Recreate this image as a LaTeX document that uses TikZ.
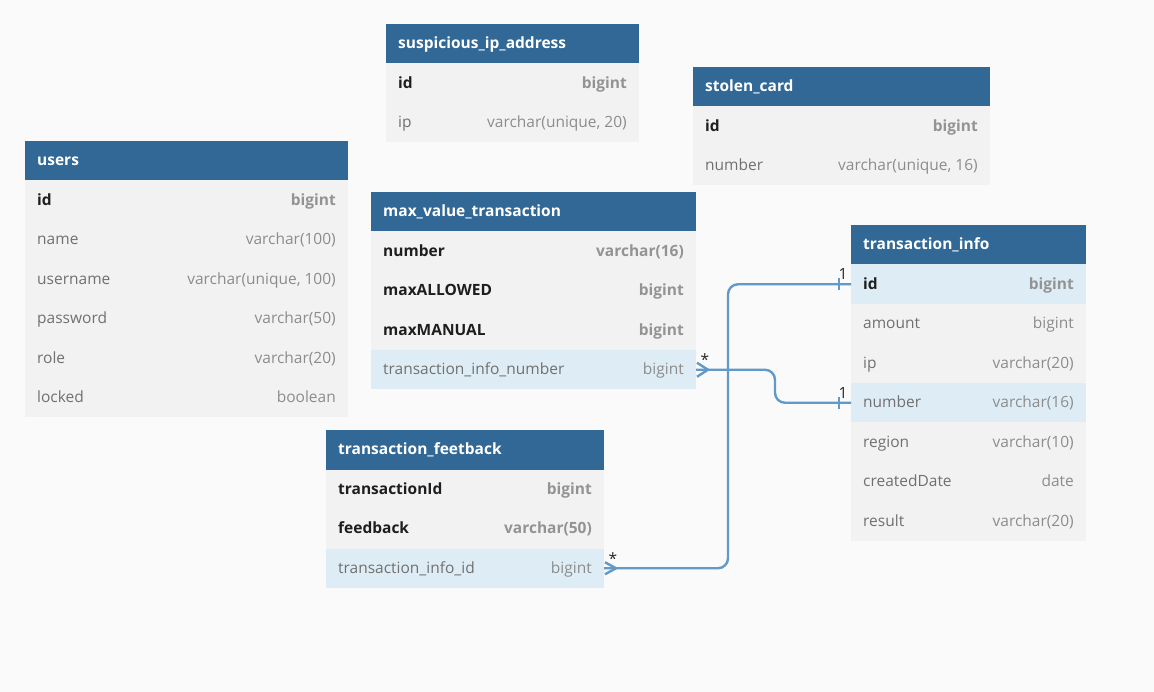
\documentclass[tikz,border=0pt]{standalone}
\usepackage{fontspec}
\setmainfont{Open Sans}
\usetikzlibrary{calc}
\definecolor{bgc}{HTML}{FAFAFA}
\definecolor{hdrc}{HTML}{316896}
\definecolor{rowc}{HTML}{F2F2F2}
\definecolor{hlc}{HTML}{DEEDF5}
\definecolor{fldn}{HTML}{707070}
\definecolor{typn}{HTML}{8C8C8C}
\definecolor{fldb}{HTML}{1E1E1E}
\definecolor{typb}{HTML}{939393}
\definecolor{connc}{HTML}{6199C9}
\tikzset{
  base/.style={inner sep=0pt, outer sep=0pt, draw=none},
  hdr/.style={base, fill=hdrc, minimum height=39.5pt},
  hdrtxt/.style={inner sep=0pt, text=white, font=\fontsize{15.5}{18}\selectfont\bfseries},
  rown/.style={base, fill=rowc, minimum height=39.5pt},
  rowb/.style={base, fill=rowc, minimum height=39.5pt},
  rowhn/.style={base, fill=hlc, minimum height=39.5pt},
  rowhb/.style={base, fill=hlc, minimum height=39.5pt},
  fldn/.style={inner sep=0pt, text=fldn, font=\fontsize{15.5}{18}\selectfont},
  fldhn/.style={fldn},
  fldb/.style={inner sep=0pt, text=fldb, font=\fontsize{15.5}{18}\selectfont\bfseries},
  fldhb/.style={fldb},
  typn/.style={inner sep=0pt, text=typn, font=\fontsize{15.5}{18}\selectfont},
  typhn/.style={typn},
  typb/.style={inner sep=0pt, text=typb, font=\fontsize{15.5}{18}\selectfont\bfseries},
  typhb/.style={typb},
  conn/.style={draw=connc, line width=2.4pt, rounded corners=10pt},
  endmark/.style={draw=connc, line width=2.4pt},
  card/.style={inner sep=0pt, text=black!85, font=\fontsize{15.5}{18}\selectfont},
}
\newcommand\dbhead[5]{% id, x, y, width, title
  \node[hdr, minimum width=#4, anchor=north west] (#1) at (#2,#3) {};
  \node[hdrtxt, anchor=base west] (#1-t) at ($(#1.west)+(12,5.2)$) {#5};
}
\newcommand\dbrow[7]{% id, x, y, width, field, type, style
  \node[row#7, minimum width=#4, anchor=north west] (#1) at (#2,#3) {};
  \node[fld#7, anchor=base west] (#1-f) at ($(#1.west)+(12,5.2)$) {#5};
  \node[typ#7, anchor=base east] (#1-t) at ($(#1.east)+(-12,5.2)$) {#6};
}
\begin{document}
\begin{tikzpicture}[x=1pt,y=-1pt]
\fill[bgc] (0,0) rectangle (1154,692);
\useasboundingbox (0,0) rectangle (1154,692);

% suspicious_ip_address
\dbhead{sip}{386}{24}{253}{suspicious\_ip\_address}
\dbrow{sip1}{386}{63.5}{253}{id}{bigint}{b}
\dbrow{sip2}{386}{103}{253}{ip}{varchar(unique, 20)}{n}

% stolen_card
\dbhead{sc}{693}{67}{297}{stolen\_card}
\dbrow{sc1}{693}{106.5}{297}{id}{bigint}{b}
\dbrow{sc2}{693}{146}{297}{number}{varchar(unique, 16)}{n}

% users
\dbhead{us}{25}{141}{323}{users}
\dbrow{us1}{25}{180.5}{323}{id}{bigint}{b}
\dbrow{us2}{25}{220}{323}{name}{varchar(100)}{n}
\dbrow{us3}{25}{259.5}{323}{username}{varchar(unique, 100)}{n}
\dbrow{us4}{25}{299}{323}{password}{varchar(50)}{n}
\dbrow{us5}{25}{338.5}{323}{role}{varchar(20)}{n}
\dbrow{us6}{25}{378}{323}{locked}{boolean}{n}

% max_value_transaction
\dbhead{mvt}{371}{192}{325}{max\_value\_transaction}
\dbrow{mvt1}{371}{231.5}{325}{number}{varchar(16)}{b}
\dbrow{mvt2}{371}{271}{325}{maxALLOWED}{bigint}{b}
\dbrow{mvt3}{371}{310.5}{325}{maxMANUAL}{bigint}{b}
\dbrow{mvt4}{371}{350}{325}{transaction\_info\_number}{bigint}{hn}

% transaction_info
\dbhead{ti}{851}{225}{235}{transaction\_info}
\dbrow{ti1}{851}{264.5}{235}{id}{bigint}{hb}
\dbrow{ti2}{851}{304}{235}{amount}{bigint}{n}
\dbrow{ti3}{851}{343.5}{235}{ip}{varchar(20)}{n}
\dbrow{ti4}{851}{383}{235}{number}{varchar(16)}{hn}
\dbrow{ti5}{851}{422.5}{235}{region}{varchar(10)}{n}
\dbrow{ti6}{851}{462}{235}{createdDate}{date}{n}
\dbrow{ti7}{851}{501.5}{235}{result}{varchar(20)}{n}

% transaction_feetback
\dbhead{tf}{326}{430}{278}{transaction\_feetback}
\dbrow{tf1}{326}{469.5}{278}{transactionId}{bigint}{b}
\dbrow{tf2}{326}{509}{278}{feedback}{varchar(50)}{b}
\dbrow{tf3}{326}{548.5}{278}{transaction\_info\_id}{bigint}{hn}

% connector: max_value_transaction.transaction_info_number -> transaction_info.number
\draw[conn] (mvt4.east) -- ($(mvt4.east)+(79,0)$) |- (ti4.west);
\draw[endmark] ($(mvt4.east)+(1,-7)$) -- ($(mvt4.east)+(12,0)$) -- ($(mvt4.east)+(1,7)$);
\draw[endmark] ($(ti4.west)+(-12,-6)$) -- ($(ti4.west)+(-12,6)$);
\node[card] (c1a) at ($(mvt4.east)+(9,-10)$) {*};
\node[card] (c1b) at ($(ti4.west)+(-8,-10)$) {1};

% connector: transaction_feetback.transaction_info_id -> transaction_info.id
\draw[conn] (tf3.east) -- ($(tf3.east)+(124,0)$) |- (ti1.west);
\draw[endmark] ($(tf3.east)+(1,-6)$) -- ($(tf3.east)+(12,0)$) -- ($(tf3.east)+(1,6)$);
\draw[endmark] ($(ti1.west)+(-12,-6)$) -- ($(ti1.west)+(-12,6)$);
\node[card] (c2a) at ($(tf3.east)+(9,-10)$) {*};
\node[card] (c2b) at ($(ti1.west)+(-8,-10)$) {1};
\end{tikzpicture}
\end{document}
